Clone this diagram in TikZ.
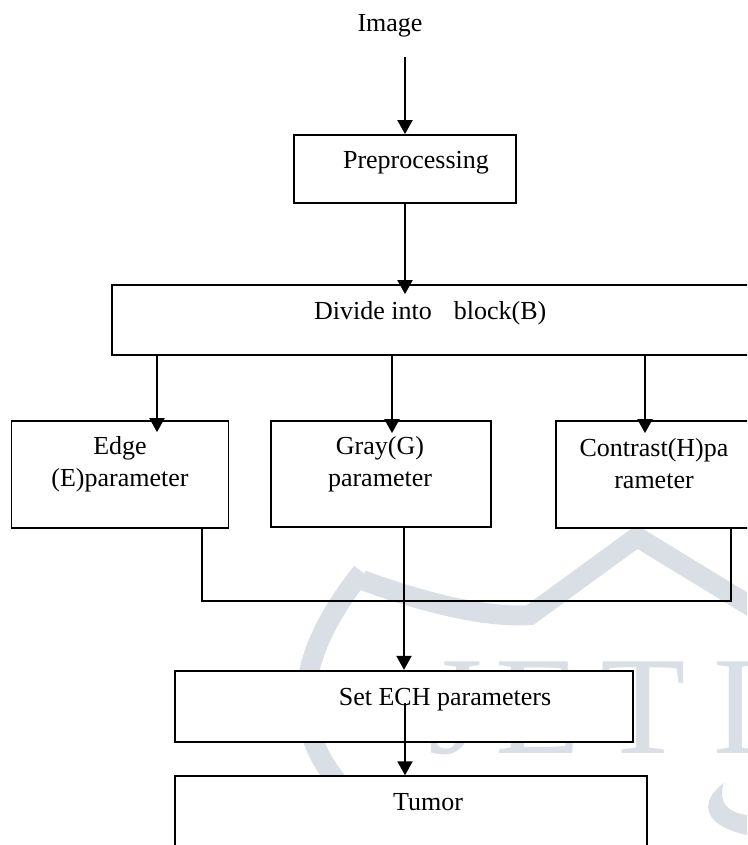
\documentclass[tikz,border=0pt]{standalone}
\usepackage{fontspec}
\setmainfont{Liberation Serif}
\usetikzlibrary{arrows.meta,calc}
\definecolor{wmark}{HTML}{D9DFE4}

\begin{document}
\begin{tikzpicture}[x=1pt,y=-1pt,
    box/.style={draw=black,fill=white,line width=1.8pt,inner sep=0pt},
    lbl/.style={font=\fontsize{26}{32}\selectfont,align=center,inner sep=0pt},
    arr/.style={line width=2pt,-{Triangle[width=15pt,length=14pt]}},
    wm/.style={draw=wmark,line width=20pt},
    wmtxt/.style={text=wmark,font=\fontsize{140}{140}\selectfont,anchor=base west,inner sep=0pt}]
        \useasboundingbox (0,0) rectangle (747,845);
        \clip (0,0) rectangle (747,845);
        % watermark
        \draw[wm] (362,572) .. controls (300,650) and (285,720) .. (340,785);
        \draw[wm,line join=miter] (362,580) .. controls (430,605) and (490,618) .. (530,615) -- (637,537) -- (760,612);
        \fill[wmark] (724,783) .. controls (700,800) and (700,825) .. (747,835) -- (747,815) .. controls (725,812) and (718,800) .. (724,783);
        \node[wmtxt] (wmJ) at (428,753) {J};
        \node[wmtxt] (wmE) at (495,753) {E};
        \node[wmtxt] (wmT) at (600,753) {T};
        \node[wmtxt] (wmI) at (712,753) {I};
        % boxes
        \node[lbl] (img) at (390,26) {Image};
        \node[box,minimum width=222pt,minimum height=68pt] (pre) at (405,169) {};
        \node[box,minimum width=648pt,minimum height=70pt] (div) at (436,320) {};
        \node[box,minimum width=217pt,minimum height=107pt] (edge) at (120,474.5) {};
        \node[box,minimum width=220pt,minimum height=106pt] (gray) at (381,474) {};
        \node[box,minimum width=196pt,minimum height=107pt] (con) at (654,474.5) {};
        \node[box,line width=2.3pt,minimum width=458pt,minimum height=71pt] (set) at (404,706.5) {};
        \node[box,line width=1.4pt,minimum width=472pt,minimum height=104pt] (tumor) at (411,828) {};
        % labels
        \node[lbl] (preTxt) at (416,163) {Preprocessing};
        \node[lbl,anchor=west] (divTxt) at (314,313) {Divide into\hspace{22pt}block(B)};
        \node[lbl] (edgeTxt) at (120,464) {Edge\\(E)parameter};
        \node[lbl] (grayTxt) at (380,464) {Gray(G)\\parameter};
        \node[lbl] (conTxt) at (654,464) {Contrast(H)pa\\rameter};
        \node[lbl] (setTxt) at (445,700) {Set ECH parameters};
        \node[lbl] (tumTxt) at (428,802) {Tumor};
        % connectors
        \coordinate (imgOut) at (405,57);
        \draw[arr] (imgOut) -- (imgOut |- pre.north);
        \draw[arr] (pre.south) -- ($(pre.south |- div.north)+(0,10)$);
        \draw[arr] ($(edge.north |- div.south)+(37,0)$) -- ($(edge.north)+(37,12)$);
        \draw[arr] ($(gray.north |- div.south)+(11,0)$) -- ($(gray.north)+(11,13)$);
        \draw[arr] ($(con.north |- div.south)+(-9,0)$) -- ($(con.north)+(-9,13)$);
        \draw[line width=1.6pt] ($(edge.south)+(82,0)$) |- ($(con.south)+(77,72)$) -- ($(con.south)+(77,0)$);
        \draw[arr] ($(gray.south)+(23,0)$) -- (set.north);
        \draw[arr] ($(set.center)+(1,-3.5)$) -- ($(set.center |- tumor.north)+(1,0)$);
\end{tikzpicture}
\end{document}
